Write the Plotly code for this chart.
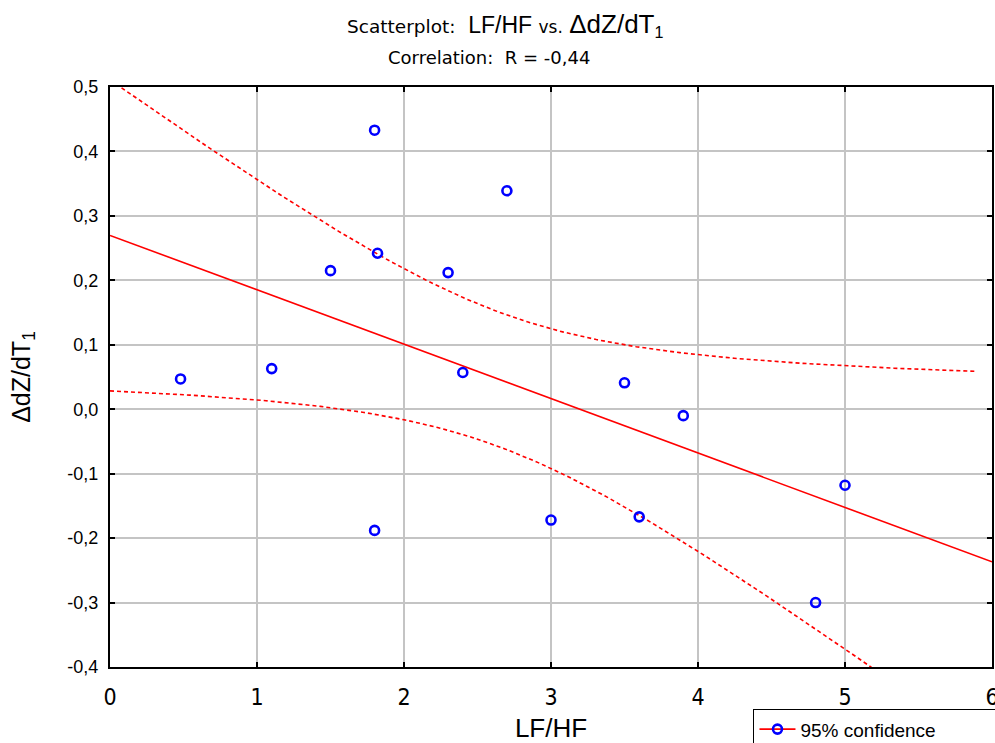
import numpy as np
import plotly.graph_objects as go

# Observations: LF/HF ratio against change in dZ/dT1
lf_hf = [0.48, 1.10, 1.50, 1.80, 1.82, 1.80, 2.30, 2.40, 2.70, 3.00, 3.50, 3.60, 3.90, 4.80, 5.00]
ddz_dt1 = [0.047, 0.063, 0.215, 0.433, 0.242, -0.188, 0.212, 0.057, 0.339, -0.172, 0.041, -0.167, -0.010, -0.300, -0.118]

x_ticks = [0, 1, 2, 3, 4, 5, 6]
x_ticktext = ["0", "1", "2", "3", "4", "5", "6"]
y_ticks = [-0.4, -0.3, -0.2, -0.1, 0.0, 0.1, 0.2, 0.3, 0.4, 0.5]
y_ticktext = ["-0,4", "-0,3", "-0,2", "-0,1", "0,0", "0,1", "0,2", "0,3", "0,4", "0,5"]

# Least-squares fit and 95% confidence band of the mean response
x = np.asarray(lf_hf)
y = np.asarray(ddz_dt1)
n = len(x)
slope, intercept = np.polyfit(x, y, 1)
resid = y - (intercept + slope * x)
s = np.sqrt(np.sum(resid ** 2) / (n - 2))
sxx = np.sum((x - x.mean()) ** 2)
T_CRIT = 2.1604  # Student t, 13 degrees of freedom, two-sided 95%

fit_x = np.linspace(0, 6, 2)
fit_y = intercept + slope * fit_x
band_x = np.linspace(0, 5.9, 240)
band_c = intercept + slope * band_x
half = T_CRIT * s * np.sqrt(1.0 / n + (band_x - x.mean()) ** 2 / sxx)

RED = "#ff0000"
BLUE = "#0000ff"
FONT = "Liberation Sans, Arial, sans-serif"
WIDE = "DejaVu Sans, Verdana, sans-serif"
NARROW = "Liberation Sans Narrow, DejaVu Sans Condensed, Arial Narrow, Liberation Sans, sans-serif"

fig = go.Figure()
fig.add_trace(go.Scatter(x=fit_x, y=fit_y, mode="lines",
                         line=dict(color=RED, width=1.6), showlegend=False, hoverinfo="skip"))
fig.add_trace(go.Scatter(x=band_x, y=band_c + half, mode="lines",
                         line=dict(color=RED, width=1.6, dash="4px,3px"), showlegend=False, hoverinfo="skip"))
fig.add_trace(go.Scatter(x=band_x, y=band_c - half, mode="lines",
                         line=dict(color=RED, width=1.6, dash="4px,3px"), showlegend=False, hoverinfo="skip"))
fig.add_trace(go.Scatter(x=lf_hf, y=ddz_dt1, mode="markers",
                         marker=dict(symbol="circle-open", size=9, color=BLUE, line=dict(width=2.6, color=BLUE)),
                         showlegend=False))
# legend entry
fig.add_trace(go.Scatter(x=[None], y=[None], mode="lines+markers", name="95% confidence",
                         line=dict(color=RED, width=1.6),
                         marker=dict(symbol="circle-open", size=9, color=BLUE, line=dict(width=2.6, color=BLUE))))

axis_common = dict(
    showline=True, linecolor="black", linewidth=2, mirror="ticks",
    ticks="inside", ticklen=5, tickwidth=2, tickcolor="black",
    showgrid=True, gridcolor="#c4c4c4", gridwidth=2,
    zeroline=False, ticklabeloverflow="allow",
)

fig.update_xaxes(range=[0, 6], tickvals=x_ticks, ticktext=x_ticktext,
                 ticklabelstandoff=8,
                 tickfont=dict(family=NARROW, size=23, color="black"),
                 title=dict(text="LF/HF", font=dict(family=FONT, size=26, color="black"), standoff=22),
                 **axis_common)
fig.update_yaxes(range=[-0.4, 0.5], tickvals=y_ticks, ticktext=y_ticktext,
                 ticklabelstandoff=6,
                 tickfont=dict(family=FONT, size=18, color="black"),
                 title=dict(text="ΔdZ/dT<sub>1</sub>", font=dict(family=FONT, size=25, color="black"), standoff=30),
                 **axis_common)

fig.add_annotation(
    xref="paper", yref="paper", x=0.448, y=1.0, yshift=62, xanchor="center", yanchor="middle",
    showarrow=False,
    text=("<span style='font-size:18.5px;font-family:DejaVu Sans'>Scatterplot:</span>  LF/HF "
          "<span style='font-size:17px;font-family:DejaVu Sans'>vs.</span> "
          "<span style='font-size:26px'>ΔdZ/dT</span><sub>1</sub>"),
    font=dict(family=FONT, size=23, color="black"),
)
fig.add_annotation(
    xref="paper", yref="paper", x=0.43, y=1.0, yshift=30, xanchor="center", yanchor="middle",
    showarrow=False,
    text="<span style='font-size:18px'>Correlation:</span>  R = -0,44",
    font=dict(family=WIDE, size=18, color="black"),
)

fig.update_layout(
    width=995, height=743,
    margin=dict(l=110, r=3, t=87, b=76, autoexpand=False),
    paper_bgcolor="white", plot_bgcolor="white",
    showlegend=True,
    legend=dict(x=0.729, y=-0.072, xanchor="left", yanchor="top",
                orientation="h",
                bordercolor="black", borderwidth=1.5, bgcolor="white",
                font=dict(family=FONT, size=19, color="black"),
                itemwidth=36, entrywidth=320, entrywidthmode="pixels"),
)

fig.write_html("out.html")
